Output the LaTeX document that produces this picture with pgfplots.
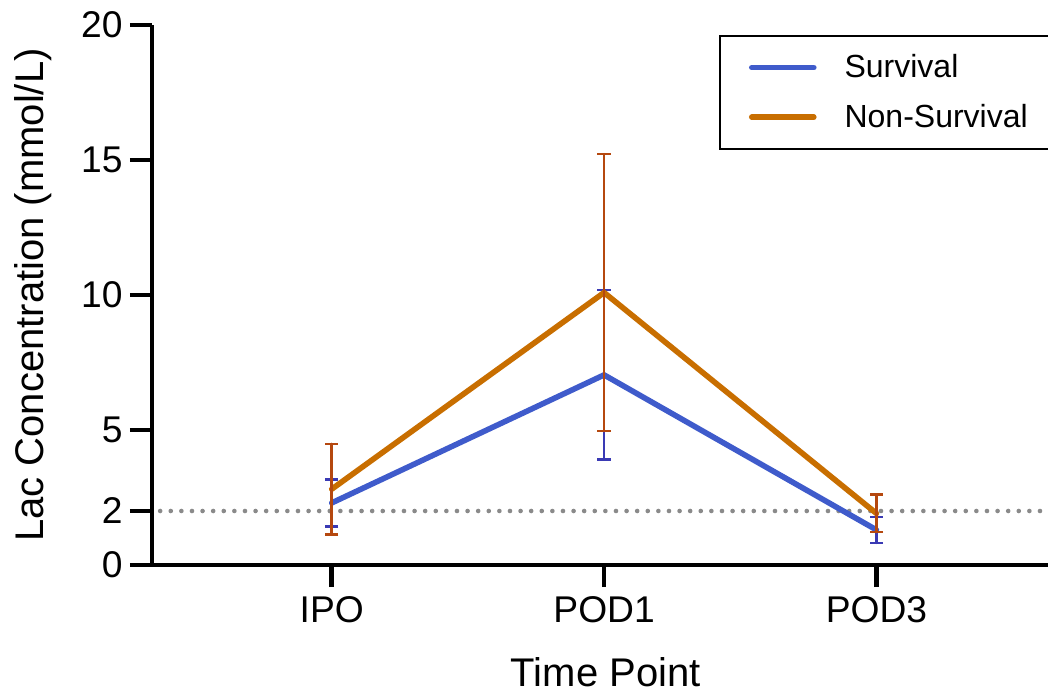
\documentclass[border=0pt]{standalone}
\usepackage{pgfplots}
\pgfplotsset{compat=1.18}
\usepackage{fontspec}
\setmainfont{Liberation Sans}
\usetikzlibrary{calc}
\definecolor{survline}{HTML}{3F5BCB}
\definecolor{surverr}{HTML}{3A3AB4}
\definecolor{nsline}{HTML}{C86E00}
\definecolor{nserr}{HTML}{B5480F}
\definecolor{refgray}{HTML}{8A8A8A}
\begin{document}
\begin{tikzpicture}
\begin{axis}[name=ax, scale only axis, width=448pt, height=270pt,
  xmin=0.34, xmax=3.63, ymin=0, ymax=20,
  axis lines=left, axis line style={-, line width=2.4pt, black},
  clip=false,
  xtick={1,2,3}, xticklabels={IPO,POD1,POD3},
  ytick={0,2,5,10,15,20},
  tick align=outside, major tick length=11pt,
  tick style={line width=2.4pt, black},
  tick label style={font=\fontsize{18.6}{22}\selectfont},
  xticklabel style={inner ysep=4.8pt},
  yticklabel style={inner xsep=3.5pt},
  /pgf/number format/assume math mode=true,
  xlabel={Time Point}, ylabel={Lac Concentration (mmol/L)},
  every axis x label/.style={at={(axis description cs:0.5064,-0.1985)}, anchor=center, font=\fontsize{20}{24}\selectfont},
  every axis y label/.style={at={(axis description cs:-0.1328,0.5)}, anchor=center, rotate=90, font=\fontsize{20}{24}\selectfont},
  legend style={at={(axis description cs:0.6328,0.9815)}, anchor=north west,
    draw=black, line width=1pt, font=\fontsize{16}{19}\selectfont,
    inner xsep=14.5pt, inner ysep=7.3pt, row sep=7.7pt,
    /tikz/every odd column/.append style={column sep=12pt}},
  legend cell align=left,
  legend image code/.code={\draw[#1, line cap=round] (0pt,0pt) -- (31pt,0pt);},
]
\addplot[refgray, line width=2.3pt, line cap=round, dash pattern=on 0pt off 5.3pt, forget plot]
  coordinates {(0.37,2) (3.63,2)};
\addplot[survline, line width=2.8pt, line cap=round, line join=round,
  error bars/.cd, y dir=both, y explicit,
  error bar style={surverr, line width=1.3pt},
  error mark options={rotate=90, surverr, mark size=3.3pt, line width=1.3pt}]
  coordinates {
    (1,2.30) +- (0,0.87)
    (2,7.04) +- (0,3.14)
    (3,1.30) +- (0,0.48)
  };
\addlegendentry{Survival}
\addplot[nsline, line width=2.8pt, line cap=round, line join=round,
  error bars/.cd, y dir=both, y explicit,
  error bar style={nserr, line width=1.3pt},
  error mark options={rotate=90, nserr, mark size=3.3pt, line width=1.3pt}]
  coordinates {
    (1,2.81) +- (0,1.67)
    (2,10.09) +- (0,5.13)
    (3,1.91) +- (0,0.69)
  };
\addlegendentry{Non-Survival}
\end{axis}
\pgfresetboundingbox
\path ($(ax.south west)+(-76pt,-65pt)$) rectangle ($(ax.north east)+(0pt,12.5pt)$);
\end{tikzpicture}
\end{document}
